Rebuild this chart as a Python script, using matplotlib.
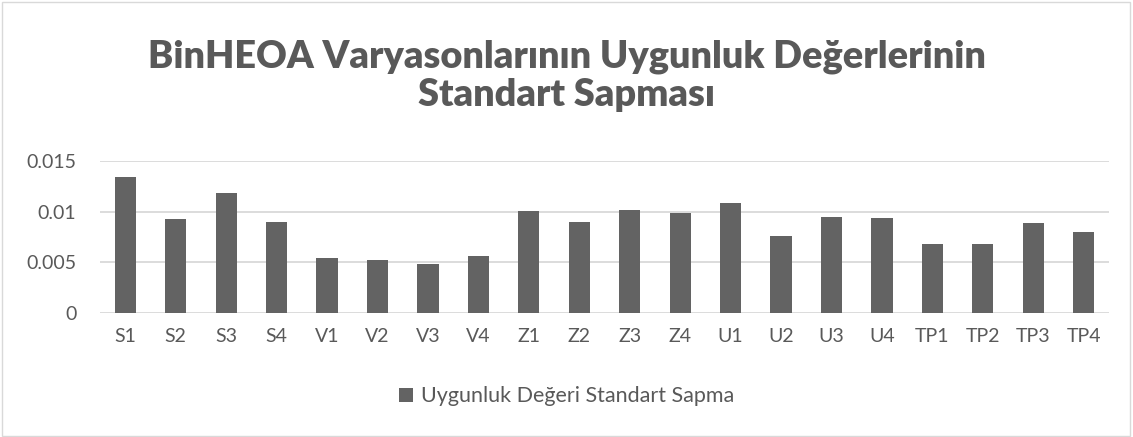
import matplotlib.pyplot as plt
import numpy as np
from matplotlib.patches import Rectangle

categories = ['S1', 'S2', 'S3', 'S4', 'V1', 'V2', 'V3', 'V4', 'Z1', 'Z2',
              'Z3', 'Z4', 'U1', 'U2', 'U3', 'U4', 'TP1', 'TP2', 'TP3', 'TP4']
std_values = [0.01344, 0.00928, 0.01185, 0.00898, 0.00541, 0.00522, 0.00482, 0.00561,
              0.01007, 0.00898, 0.01017, 0.00987, 0.01086, 0.00760, 0.00947, 0.00938,
              0.00680, 0.00680, 0.00888, 0.00799]
yticks = [0, 0.005, 0.01, 0.015]
ytick_labels = ['0', '0.005', '0.01', '0.015']
series_name = 'Uygunluk Değeri Standart Sapma'
title = 'BinHEOA Varyasonlarının Uygunluk Değerlerinin\nStandart Sapması'

plt.rcParams['font.family'] = ['Lato', 'DejaVu Sans']
text_color = '#595959'
grid_color = '#d9d9d9'
bar_color = '#636363'

fig = plt.figure(figsize=(11.33, 4.37), dpi=100)
fig.patches.append(Rectangle((0.0015, 0.003), 0.996, 0.992, transform=fig.transFigure,
                             fill=False, edgecolor=grid_color, linewidth=1))

ax = fig.add_axes([0.0883, 0.2844, 0.8905, 0.3472])
x = np.arange(len(categories))
ax.bar(x, std_values, width=0.42, color=bar_color, zorder=3, label=series_name)

ax.set_xlim(-0.5, len(categories) - 0.5)
ax.set_ylim(0, 0.015)
ax.set_yticks(yticks)
ax.set_yticklabels(ytick_labels)
ax.set_xticks(x)
ax.set_xticklabels(categories)
ax.tick_params(axis='both', length=0, colors=text_color, labelsize=14)
ax.tick_params(axis='x', pad=11)
ax.tick_params(axis='y', pad=17)
for spine in ax.spines.values():
    spine.set_visible(False)
ax.grid(axis='y', color=grid_color, linewidth=1.3, zorder=0)

fig.text(0.5, 0.91, title, ha='center', va='top', fontsize=27.3, fontweight='heavy',
         color=text_color, linespacing=1.15)

fig.legend(loc='center', bbox_to_anchor=(0.5, 0.093), frameon=False, fontsize=15.5,
           labelcolor=text_color, handlelength=0.65, handleheight=0.65, handletextpad=0.35)

fig.savefig('out.png', dpi=100, facecolor='white')
